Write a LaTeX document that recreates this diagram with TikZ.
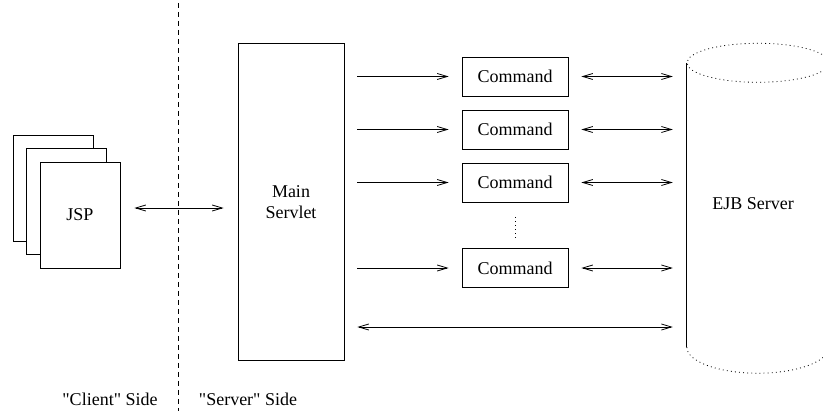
\documentclass[tikz,border=0pt]{standalone}
\usepackage{fontspec}
\setmainfont{Liberation Serif}
\usetikzlibrary{arrows.meta}
\tikzset{
  box/.style={draw, line width=0.8pt, inner sep=0pt, fill=white},
  lbl/.style={font=\fontsize{18}{21}\selectfont, align=center, inner sep=0pt},
  arr/.style={line width=0.8pt, -{Straight Barb[length=10pt,width=6pt]}},
  darr/.style={line width=0.8pt, {Straight Barb[length=10pt,width=6pt]}-{Straight Barb[length=10pt,width=6pt]}},
  dots/.style={line width=0.8pt, dash pattern=on 0.9pt off 3.2pt},
  sep/.style={line width=0.7pt, dash pattern=on 5pt off 4pt},
}
\begin{document}
\begin{tikzpicture}[x=1pt,y=-1pt]
\useasboundingbox (0,0) rectangle (823,411);
\clip (0,0) rectangle (823,411);
% JSP pages
\node[box, minimum width=80pt, minimum height=106pt] (p1) at (53,188) {};
\node[box, minimum width=80pt, minimum height=106pt] (p2) at (66.5,201.5) {};
\node[box, minimum width=80pt, minimum height=106pt, lbl] (jsp) at (80,215) {JSP};
% separator
\coordinate (septop) at (178,3);
\coordinate (sepbot) at (178,411);
\draw[sep] (septop) -- (sepbot);
% servlet
\node[box, minimum width=106pt, minimum height=317pt] (srv) at (291,201.5) {};
\node[lbl] (srvtxt) at (291,202) {Main\\Servlet};
% commands
\node[box, lbl, minimum width=106pt, minimum height=39pt] (c1) at (515,76.5) {Command};
\node[box, lbl, minimum width=106pt, minimum height=39pt] (c2) at (515,129.5) {Command};
\node[box, lbl, minimum width=106pt, minimum height=39pt] (c3) at (515,182.5) {Command};
\node[box, lbl, minimum width=106pt, minimum height=39pt] (c4) at (515,268) {Command};
\coordinate (d1) at (515,217);
\coordinate (d2) at (515,239);
\draw[dots] (d1) -- (d2);
% EJB server cylinder
\node[minimum width=142pt, minimum height=284pt, inner sep=0pt] (cyl) at (758,205) {};
\draw[line width=0.8pt] (cyl.north west) -- (cyl.south west);
\draw[dots] (cyl.north) ellipse [x radius=71, y radius=19.5];
\draw[dots] (cyl.south west) arc [start angle=180, end angle=0, x radius=71, y radius=26];
\node[lbl] (ejb) at (753,204) {EJB Server};
% connectors
\draw[darr, shorten <=14pt, shorten >=14pt] (jsp.east |- 0,208) -- (srv.west |- 0,208);
\foreach \c in {c1,c2,c3,c4}{
  \draw[arr, shorten <=13pt, shorten >=13pt] (srv.east |- \c) -- (\c.west);
  \draw[darr, shorten <=13pt, shorten >=14pt] (\c.east) -- (cyl.west |- \c);
}
\coordinate (lowy) at (0,327);
\draw[darr, shorten <=13pt, shorten >=14pt] (srv.east |- lowy) -- (cyl.west |- lowy);
% side labels
\node[lbl] (cl) at (110,399) {\textquotedbl Client\textquotedbl{} Side};
\node[lbl] (sv) at (248,399) {\textquotedbl Server\textquotedbl{} Side};
\end{tikzpicture}
\end{document}
